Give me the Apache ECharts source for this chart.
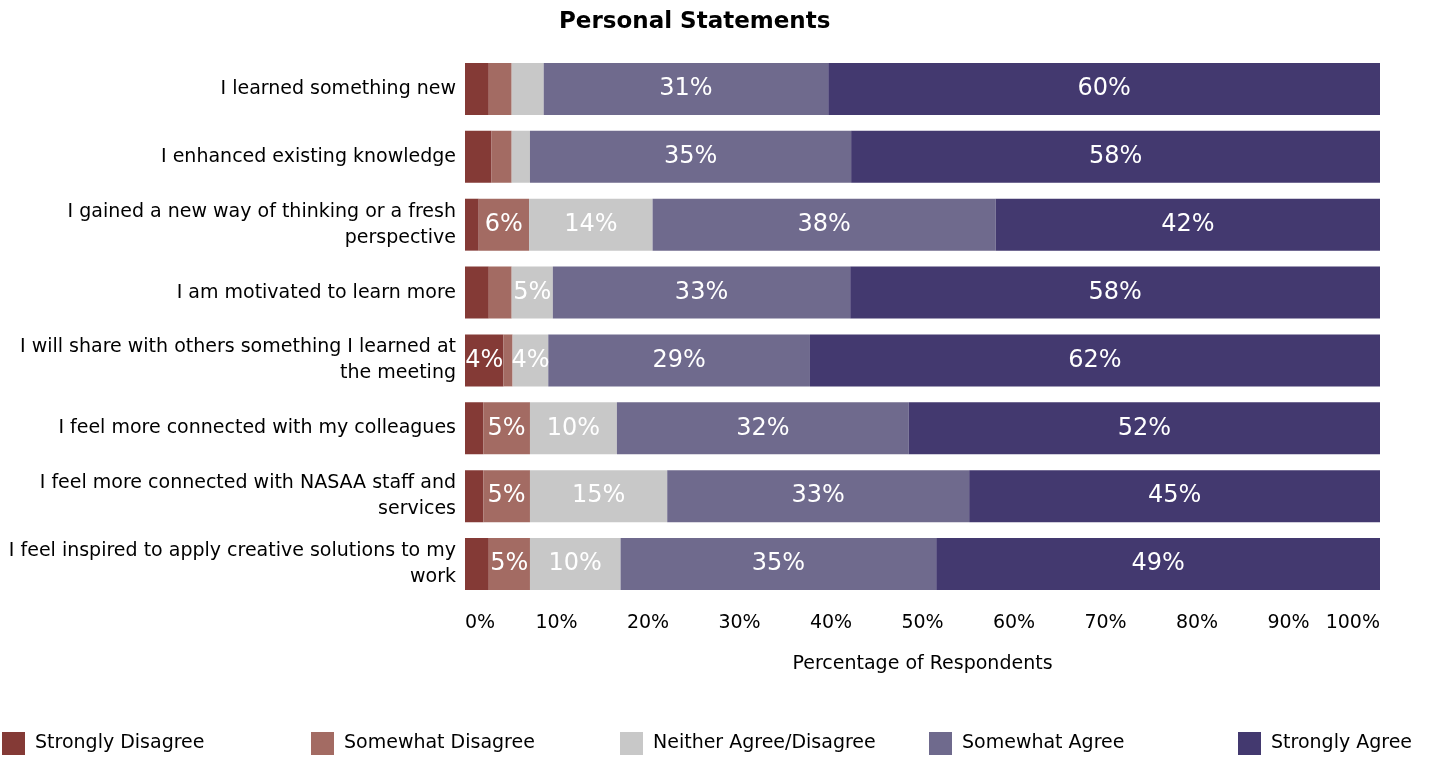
<!DOCTYPE html>
<html>
<head>
<meta charset="utf-8">
<title>Personal Statements</title>
<script src="https://cdn.jsdelivr.net/npm/echarts@6/dist/echarts.min.js"></script>
<style>
  html, body { margin: 0; padding: 0; background: #ffffff; }
  #chart { width: 1429px; height: 757px; }
</style>
</head>
<body>
<div id="chart"></div>
<script>
// Survey statements (top to bottom)
const categories = [
  'I learned something new',
  'I enhanced existing knowledge',
  'I gained a new way of thinking or a fresh perspective',
  'I am motivated to learn more',
  'I will share with others something I learned at the meeting',
  'I feel more connected with my colleagues',
  'I feel more connected with NASAA staff and services',
  'I feel inspired to apply creative solutions to my work'
];

// Response scale
const seriesNames = [
  'Strongly Disagree',
  'Somewhat Disagree',
  'Neither Agree/Disagree',
  'Somewhat Agree',
  'Strongly Agree'
];

// Percentage of respondents per statement
const stronglyDisagree = [2.6, 2.9, 1.5, 2.6, 4.2, 2.0, 2.0, 2.6];
const somewhatDisagree = [2.5, 2.2, 5.5, 2.5, 1.0, 5.1, 5.1, 4.5];
const neitherAgree     = [3.5, 2.0, 13.5, 4.5, 3.9, 9.5, 15.0, 9.9];
const somewhatAgree    = [31.1, 35.1, 37.5, 32.5, 28.6, 31.9, 33.0, 34.5];
const stronglyAgree    = [60.3, 57.8, 42.0, 57.9, 62.3, 51.5, 44.9, 48.5];

const xTicks = [0, 10, 20, 30, 40, 50, 60, 70, 80, 90, 100];

const colors = ['#843A36', '#A36B63', '#C8C8C8', '#6F6A8D', '#43396F'];
const FONT = 'DejaVu Sans';

// Word-wrap a category label to a maximum pixel width (no trailing spaces)
const measureCtx = document.createElement('canvas').getContext('2d');
function wrapLabel(text, maxWidth) {
  measureCtx.font = '19px "' + FONT + '"';
  const words = text.split(' ');
  const lines = [];
  let line = '';
  words.forEach(w => {
    const test = line ? line + ' ' + w : w;
    if (line && measureCtx.measureText(test).width > maxWidth) {
      lines.push(line);
      line = w;
    } else {
      line = test;
    }
  });
  if (line) lines.push(line);
  return lines.join('\n');
}

const values = [stronglyDisagree, somewhatDisagree, neitherAgree, somewhatAgree, stronglyAgree];

const series = seriesNames.map((name, i) => ({
  name: name,
  type: 'bar',
  stack: 'total',
  barCategoryGap: '23.5%',
  data: values[i],
  itemStyle: { color: colors[i] },
  label: {
    show: true,
    position: 'inside',
    color: '#ffffff',
    fontFamily: FONT,
    fontSize: 24,
    formatter: p => (p.value >= 3.8 ? Math.round(p.value) + '%' : '')
  },
  emphasis: { disabled: true }
}));

const legendLefts = [2, 311, 620, 929, 1238];
const legends = seriesNames.map((name, i) => ({
  data: [name],
  left: legendLefts[i],
  top: 732,
  padding: 0,
  orient: 'horizontal',
  itemWidth: 23,
  itemHeight: 23,
  itemGap: 0,
  icon: 'rect',
  selectedMode: false,
  textStyle: { fontFamily: FONT, fontSize: 19, color: '#000000', padding: [0, 0, 0, 5] }
}));

const chart = echarts.init(document.getElementById('chart'), null, { renderer: 'canvas' });
chart.setOption({
  animation: false,
  backgroundColor: '#ffffff',
  title: {
    text: 'Personal Statements',
    left: 554,
    top: 6,
    textStyle: { fontFamily: FONT, fontSize: 23, fontWeight: 'bold', color: '#000000' }
  },
  legend: legends,
  grid: { left: 465, right: 49, top: 55, bottom: 159, containLabel: false },
  xAxis: {
    type: 'value',
    min: xTicks[0],
    max: xTicks[xTicks.length - 1],
    interval: 10,
    name: 'Percentage of Respondents',
    nameLocation: 'middle',
    nameGap: 57,
    nameTextStyle: { fontFamily: FONT, fontSize: 19, color: '#000000' },
    axisLine: { show: false },
    axisTick: { show: false },
    splitLine: { show: false },
    axisLabel: {
      fontFamily: FONT,
      fontSize: 19,
      color: '#000000',
      margin: 16,
      alignMinLabel: 'left',
      alignMaxLabel: 'right',
      formatter: v => v + '%'
    }
  },
  yAxis: {
    type: 'category',
    data: categories,
    inverse: true,
    axisLine: { show: false },
    axisTick: { show: false },
    splitLine: { show: false },
    axisLabel: {
      fontFamily: FONT,
      fontSize: 19,
      color: '#000000',
      margin: 9,
      lineHeight: 26,
      align: 'right',
      formatter: v => wrapLabel(v, 452)
    }
  },
  series: series
});
</script>
</body>
</html>
